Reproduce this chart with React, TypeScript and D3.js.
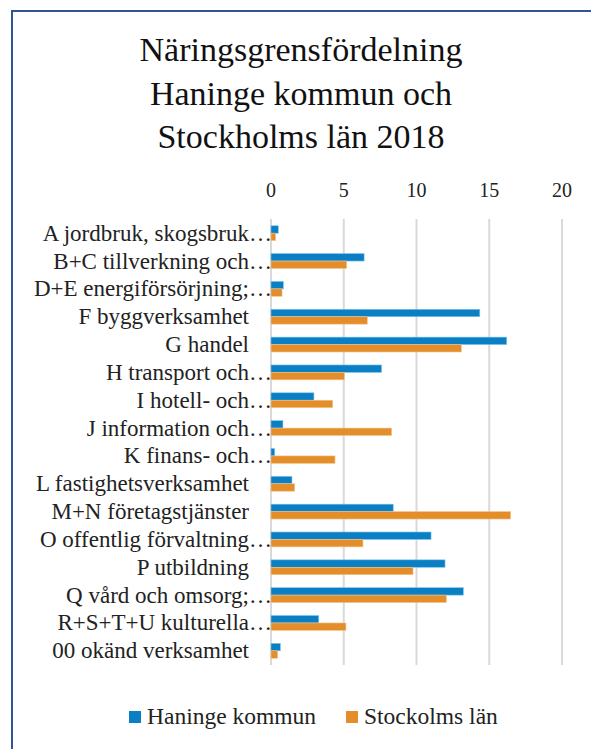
import React, { useEffect, useRef } from 'react';
import * as d3 from 'd3';

const titleLines = ['Näringsgrensfördelning', 'Haninge kommun och', 'Stockholms län 2018'];

const categories = [
  'A jordbruk, skogsbruk',
  'B+C tillverkning och',
  'D+E energiförsörjning;',
  'F byggverksamhet',
  'G handel',
  'H transport och',
  'I hotell- och',
  'J information och',
  'K finans- och',
  'L fastighetsverksamhet',
  'M+N företagstjänster',
  'O offentlig förvaltning',
  'P utbildning',
  'Q vård och omsorg;',
  'R+S+T+U kulturella',
  '00 okänd verksamhet',
];
// labels that Excel cut short with an ellipsis
const truncated = [true, true, true, false, false, true, true, true, true, false, false, true, false, true, true, false];

const haninge = [0.5, 6.4, 0.85, 14.35, 16.2, 7.6, 2.95, 0.82, 0.25, 1.44, 8.4, 11.0, 11.96, 13.22, 3.28, 0.64];
const stockholm = [0.32, 5.2, 0.76, 6.62, 13.08, 5.04, 4.24, 8.29, 4.4, 1.63, 16.47, 6.32, 9.76, 12.05, 5.15, 0.46];

const seriesNames = ['Haninge kommun', 'Stockolms län'];
const seriesColors = ['#0a7fc4', '#e38e2a'];
const xTicks = [0, 5, 10, 15, 20];

const FONT = "'Liberation Serif', 'Times New Roman', 'DejaVu Serif', serif";

export default function App() {
  const ref = useRef<SVGSVGElement>(null);

  useEffect(() => {
    const svg = d3.select(ref.current);
    svg.selectAll('*').remove();

    // outer frame (chart continues past the right/bottom edge)
    svg.append('rect')
      .attr('x', 12).attr('y', 11)
      .attr('width', 900).attr('height', 900)
      .attr('fill', '#fff')
      .attr('stroke', '#2f5597')
      .attr('stroke-width', 2);

    svg.append('text')
      .style('font-family', FONT)
      .attr('font-size', 34)
      .attr('fill', '#111')
      .attr('text-anchor', 'middle')
      .selectAll('tspan')
      .data(titleLines)
      .join('tspan')
      .attr('x', 301)
      .attr('y', (d, i) => 61 + i * 43.5)
      .text((d) => d);

    const left = 271, right = 562, top = 219, bottom = 665;
    const x = d3.scaleLinear().domain([0, 20]).range([left, right]);
    const y = d3.scaleBand<string>().domain(categories).range([top, bottom]).paddingInner(0.466).paddingOuter(0.243);
    const y1 = d3.scaleBand<number>().domain([0, 1]).range([0, y.bandwidth()]);

    // gridlines
    svg.append('g')
      .selectAll('line')
      .data(xTicks)
      .join('line')
      .attr('x1', (d) => x(d)).attr('x2', (d) => x(d))
      .attr('y1', top).attr('y2', bottom)
      .attr('stroke', '#d9d9d9')
      .attr('stroke-width', 2);

    // tick labels on top
    svg.append('g')
      .selectAll('text')
      .data(xTicks)
      .join('text')
      .attr('x', (d) => x(d))
      .attr('y', 197)
      .attr('text-anchor', 'middle')
      .style('font-family', FONT)
      .attr('font-size', 20)
      .attr('fill', '#222')
      .text((d) => d);

    const rows = categories.map((c, i) => ({ c, vals: [haninge[i], stockholm[i]] }));
    const g = svg.append('g');
    rows.forEach((r) => {
      r.vals.forEach((v, s) => {
        g.append('rect')
          .attr('x', x(0))
          .attr('y', (y(r.c) as number) + (y1(s) as number))
          .attr('width', x(v) - x(0))
          .attr('height', y1.bandwidth())
          .attr('fill', seriesColors[s])
          .attr('stroke', s === 0 ? '#7cc3ec' : '#f3c48f')
          .attr('stroke-width', 0.6);
      });
    });

    // category labels
    const lab = svg.append('g')
      .style('font-family', FONT)
      .attr('font-size', 23)
      .attr('fill', '#222');
    categories.forEach((c, i) => {
      const cy = (y(c) as number) + y.bandwidth() / 2 + 7.5;
      lab.append('text').attr('x', 249).attr('y', cy).attr('text-anchor', 'end').text(c);
      if (truncated[i]) {
        lab.append('text').attr('x', 249).attr('y', cy).attr('text-anchor', 'start').text('…');
      }
    });

    // legend
    const leg = svg.append('g').style('font-family', FONT).attr('font-size', 23.5).attr('fill', '#222');
    const legX = [129, 346];
    seriesNames.forEach((n, i) => {
      leg.append('rect').attr('x', legX[i]).attr('y', 711).attr('width', 12).attr('height', 12).attr('fill', seriesColors[i]);
      leg.append('text').attr('x', legX[i] + 18).attr('y', 724).text(n);
    });
  }, []);

  return (
    <svg
      ref={ref}
      width={591}
      height={749}
      style={{ position: 'absolute', left: 0, top: 0, background: '#fff' }}
    />
  );
}
